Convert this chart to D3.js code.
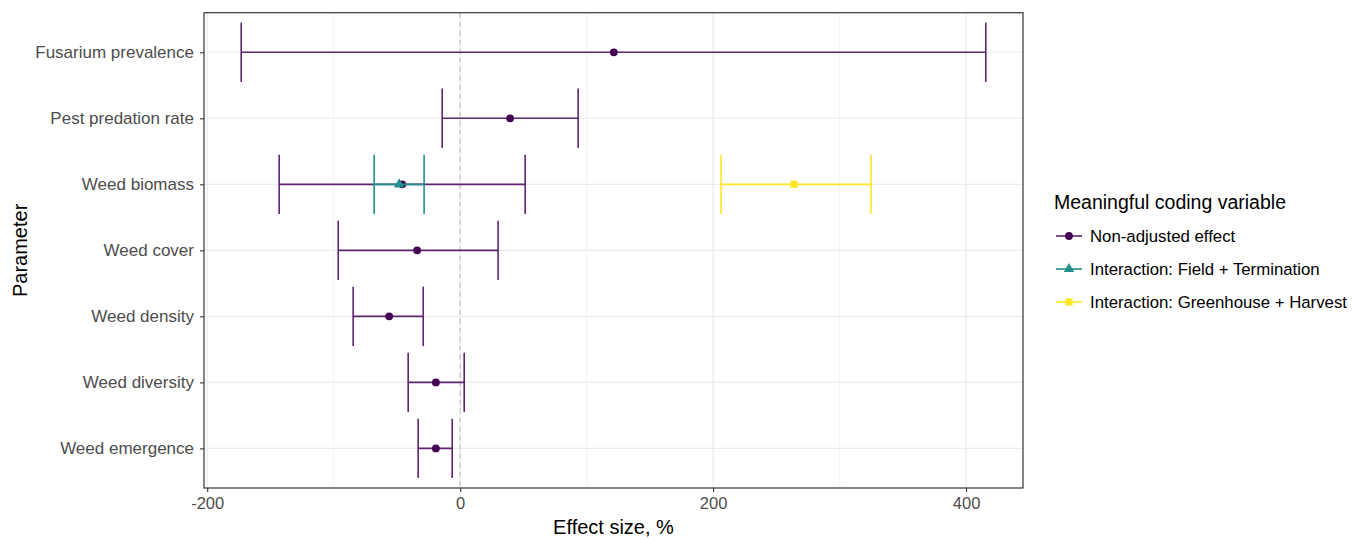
<!DOCTYPE html>
<html>
<head>
<meta charset="utf-8">
<script src="https://cdn.jsdelivr.net/npm/d3@7"></script>
<style>
  body { margin: 0; background: #fff; }
  svg { display: block; font-family: "Liberation Sans", Arial, sans-serif; }
</style>
</head>
<body>
<svg id="chart" width="1354" height="540"></svg>
<script>
// Parameters, top to bottom
const parameters = [
  "Fusarium prevalence", "Pest predation rate", "Weed biomass",
  "Weed cover", "Weed density", "Weed diversity", "Weed emergence"
];

// Coding variables (legend order)
const groups = [
  "Non-adjusted effect",
  "Interaction: Field + Termination",
  "Interaction: Greenhouse + Harvest"
];

// Estimates with lower / upper bounds (effect size, %)
const nonAdjusted = [
  { param: "Fusarium prevalence", est: 121.5, lo: -173.1, hi: 415.6 },
  { param: "Pest predation rate", est: 39.5,  lo: -14.2,  hi: 93.3 },
  { param: "Weed biomass",        est: -45.8, lo: -143.1, hi: 51.4 },
  { param: "Weed cover",          est: -34.0, lo: -96.4,  hi: 30.0 },
  { param: "Weed density",        est: -56.1, lo: -84.6,  hi: -29.2 },
  { param: "Weed diversity",      est: -19.2, lo: -41.1,  hi: 3.2 },
  { param: "Weed emergence",      est: -19.2, lo: -33.2,  hi: -6.3 }
];
const fieldTermination = [
  { param: "Weed biomass", est: -48.2, lo: -68.0, hi: -28.5 }
];
const greenhouseHarvest = [
  { param: "Weed biomass", est: 264.0, lo: 206.3, hi: 324.9 }
];

const xTicks = [-200, 0, 200, 400];
const xMinorTicks = [-100, 100, 300];

const colors = ["#440154", "#21908C", "#FDE725"];
const lineColors = ["#5e2470", "#21908C", "#FDE725"];
const shapes = [d3.symbolCircle, d3.symbolTriangle, d3.symbolSquare];
const seriesData = [nonAdjusted, fieldTermination, greenhouseHarvest];

const svg = d3.select("#chart");
const panel = { left: 204, right: 1023, top: 12.7, bottom: 488 };

// Continuous x: data range expanded by 5% on each side
const allVals = seriesData.flat().flatMap(d => [d.lo, d.hi]);
const [mn, mx] = d3.extent(allVals);
const pad = (mx - mn) * 0.05;
const x = d3.scaleLinear().domain([mn - pad, mx + pad]).range([panel.left, panel.right]);

// Discrete y with 0.6 unit expansion at each end
const n = parameters.length;
const yUnit = d3.scaleLinear().domain([0.4, n + 0.6]).range([panel.top, panel.bottom]);
const y = p => yUnit(parameters.indexOf(p) + 1);
const band = yUnit(2) - yUnit(1);

const g = svg.append("g");

// Minor grid
g.selectAll(".minor").data(xMinorTicks).join("line")
  .attr("x1", d => x(d)).attr("x2", d => x(d))
  .attr("y1", panel.top).attr("y2", panel.bottom)
  .attr("stroke", "#f2f2f2").attr("stroke-width", 0.8);

// Major grid
g.selectAll(".majorx").data(xTicks).join("line")
  .attr("x1", d => x(d)).attr("x2", d => x(d))
  .attr("y1", panel.top).attr("y2", panel.bottom)
  .attr("stroke", "#e8e8e8").attr("stroke-width", 1.1);
g.selectAll(".majory").data(parameters).join("line")
  .attr("x1", panel.left).attr("x2", panel.right)
  .attr("y1", d => y(d)).attr("y2", d => y(d))
  .attr("stroke", "#ececec").attr("stroke-width", 1.1);

// Zero reference line
g.append("line")
  .attr("x1", x(0)).attr("x2", x(0))
  .attr("y1", panel.top).attr("y2", panel.bottom)
  .attr("stroke", "#b8b8b8").attr("stroke-width", 1)
  .attr("stroke-dasharray", "5,4");

// Error bars and points
const capHalf = band * 0.9 / 2;
seriesData.forEach((data, i) => {
  const s = g.append("g");
  s.selectAll(".h").data(data).join("line")
    .attr("x1", d => x(d.lo)).attr("x2", d => x(d.hi))
    .attr("y1", d => y(d.param)).attr("y2", d => y(d.param))
    .attr("stroke", lineColors[i]).attr("stroke-width", 1.6);
  ["lo", "hi"].forEach(k => {
    s.selectAll(".c" + k).data(data).join("line")
      .attr("x1", d => x(d[k])).attr("x2", d => x(d[k]))
      .attr("y1", d => y(d.param) - capHalf).attr("y2", d => y(d.param) + capHalf)
      .attr("stroke", lineColors[i]).attr("stroke-width", 1.6);
  });
  s.selectAll(".pt").data(data).join("path")
    .attr("transform", d => `translate(${x(d.est)},${y(d.param)})`)
    .attr("d", d3.symbol().type(shapes[i]).size(i === 2 ? 52 : 48))
    .attr("fill", colors[i]);
});

// Panel border
svg.append("rect")
  .attr("x", panel.left).attr("y", panel.top)
  .attr("width", panel.right - panel.left).attr("height", panel.bottom - panel.top)
  .attr("fill", "none").attr("stroke", "#333").attr("stroke-width", 1.2);

// X axis (plain hyphen for negatives)
const xAxis = svg.append("g")
  .attr("transform", `translate(0,${panel.bottom})`)
  .call(d3.axisBottom(x).tickValues(xTicks).tickSize(4).tickPadding(5).tickFormat(d => String(d)));
xAxis.select(".domain").remove();
xAxis.selectAll("line").attr("stroke", "#333").attr("stroke-width", 1.1);
xAxis.selectAll("text").attr("fill", "#4d4d4d").style("font-size", "16.5px");

// Y axis
const yAxis = svg.append("g")
  .attr("transform", `translate(${panel.left},0)`)
  .call(d3.axisLeft(d3.scalePoint().domain(parameters).range([y(parameters[0]), y(parameters[n - 1])]))
    .tickSize(4).tickPadding(6));
yAxis.select(".domain").remove();
yAxis.selectAll("line").attr("stroke", "#333").attr("stroke-width", 1.1);
yAxis.selectAll("text").attr("fill", "#4d4d4d").style("font-size", "17px");

// Axis titles
svg.append("text")
  .attr("x", (panel.left + panel.right) / 2).attr("y", 534)
  .attr("text-anchor", "middle").style("font-size", "20px").attr("fill", "#000")
  .text("Effect size, %");
svg.append("text")
  .attr("transform", `translate(27,${(panel.top + panel.bottom) / 2}) rotate(-90)`)
  .attr("text-anchor", "middle").style("font-size", "20px").attr("fill", "#000")
  .text("Parameter");

// Legend
const lg = svg.append("g").attr("transform", "translate(1054,0)");
lg.append("text").attr("x", 0).attr("y", 209)
  .style("font-size", "19.5px").attr("fill", "#000")
  .text("Meaningful coding variable");
groups.forEach((name, i) => {
  const cy = 236 + i * 33;
  lg.append("line").attr("x1", 2).attr("x2", 28).attr("y1", cy).attr("y2", cy)
    .attr("stroke", lineColors[i]).attr("stroke-width", 1.6);
  lg.append("path").attr("transform", `translate(15,${cy})`)
    .attr("d", d3.symbol().type(shapes[i]).size(i === 2 ? 52 : 48))
    .attr("fill", colors[i]);
  lg.append("text").attr("x", 36).attr("y", cy + 6)
    .style("font-size", "16.8px").attr("fill", "#000").text(name);
});
</script>
</body>
</html>
